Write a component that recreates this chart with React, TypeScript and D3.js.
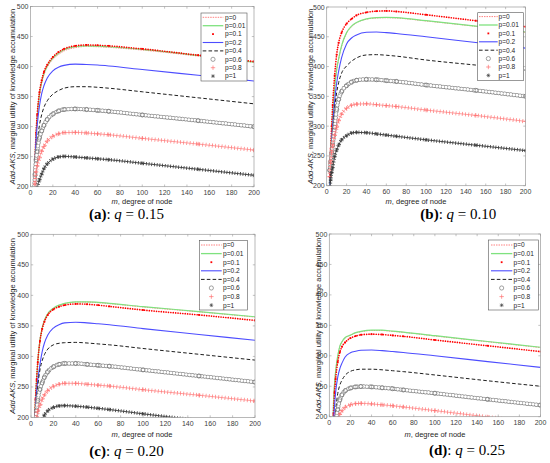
import React from 'react';
import * as d3 from 'd3';

// ---------- data ----------
const M_VALUES = [3, 4, 5, 6, 8, 10, 12, 15, 20, 25, 30, 40, 50, 60, 70, 100, 150, 200];
const P_LABELS = ['p=0', 'p=0.01', 'p=0.1', 'p=0.2', 'p=0.4', 'p=0.6', 'p=0.8', 'p=1'];
const X_TICKS = [0, 20, 40, 60, 80, 100, 120, 140, 160, 180, 200];
const Y_TICKS = [200, 250, 300, 350, 400, 450, 500];
const PANEL_LETTERS = ['a', 'b', 'c', 'd'];
const PANEL_Q = ['0.15', '0.10', '0.20', '0.25'];

// (a) q = 0.15
const A_P0 = [186, 240, 285, 315, 352, 372, 386, 399, 412, 420, 426, 431.5, 433.5, 433, 432, 427.5, 417.5, 407];
const A_P001 = [187, 242, 287, 317, 354, 374, 388, 401, 414, 422, 428, 433, 434.5, 434, 433, 428.5, 418.5, 407.5];
const A_P01 = [190, 245, 290, 320, 357, 377, 391, 403, 416, 424, 429.5, 434.5, 436, 435.5, 434.5, 429.5, 419, 408.5];
const A_P02 = [185, 240, 278, 302, 334, 355, 368, 381, 393, 399, 402, 404, 403.5, 402.5, 401, 395, 385.5, 376];
const A_P04 = [180, 225, 255, 275, 302, 320, 332, 343, 354, 360, 364, 366.5, 366.5, 365.5, 364, 358, 348, 338];
const A_P06 = [170, 220, 245, 259, 281, 293, 302, 312, 321, 326, 328.5, 329.5, 328.5, 327, 325.5, 319.5, 310, 300];
const A_P08 = [165, 205, 225, 235, 248, 259, 267, 276, 284, 288, 290, 290.5, 289.5, 288, 286.5, 280.5, 271, 261];
const A_P1 = [150, 172, 188, 198, 211, 221, 230, 238, 246, 249.5, 250.5, 249.5, 248, 246.5, 245, 239, 229, 219];

// (b) q = 0.10
const B_P0 = [200, 250, 288, 316, 362, 393, 412, 434, 456, 467, 473.5, 479.5, 481.5, 482, 481.5, 476.5, 467.5, 457.5];
const B_P001 = [200, 250, 290, 318, 365, 395, 413, 435, 457, 468, 474, 480, 482, 482.5, 482, 477, 468, 458];
const B_P01 = [215, 262, 300, 335, 385, 420, 440, 457, 472, 480, 486, 491, 493, 493.5, 492.5, 487, 477, 467];
const B_P02 = [190, 240, 275, 300, 342, 372, 392, 415, 438, 448, 453, 457.5, 458, 457, 455.5, 450, 440.5, 431];
const B_P04 = [185, 225, 250, 285, 330, 356, 373, 389, 401, 409, 414.5, 419.5, 420, 419, 417.5, 411, 402.5, 394];
const B_P06 = [226, 240, 255, 268, 298, 328, 345, 358, 368, 374, 377, 378.5, 378, 376.5, 375, 369, 360, 350];
const B_P08 = [215, 240, 256, 267, 285, 298, 309, 320, 330, 335, 337, 337.5, 336, 334.5, 333, 327, 318, 308];
const B_P1 = [190, 210, 222, 230, 249, 260, 268, 277, 284, 288.5, 289.5, 289, 287, 285, 283, 277, 268, 259];

// (c) q = 0.20
const C_P0 = [184, 229, 261, 289, 326, 346, 358, 369, 378.5, 383.5, 386.5, 389, 389, 388, 386.5, 381, 373, 364.5];
const C_P001 = [185, 230, 262, 290, 327, 347, 359, 370, 379, 384, 387, 389.5, 389.5, 388.5, 387, 381.5, 373.5, 365];
const C_P01 = [185, 230, 262, 290, 325, 345, 357, 368, 377, 381.5, 384, 386, 385.5, 384, 382, 376, 368, 359];
const C_P02 = [180, 215, 242, 260, 287, 308, 322, 335, 346.5, 352, 355, 356, 355, 353.5, 352, 345.5, 336, 326.5];
const C_P04 = [170, 200, 228, 250, 278, 293, 303, 312, 319, 321.5, 322.5, 323, 322, 320.5, 319, 313, 303.5, 294];
const C_P06 = [160, 190, 212, 228, 246, 257, 266, 275, 283, 287, 288.5, 288.5, 287, 285.5, 284, 278, 268, 258];
const C_P08 = [160, 185, 200, 210, 220, 230, 237, 244, 251, 254.5, 256, 256, 254.5, 253, 251.5, 245.5, 236.5, 227];
const C_P1 = [120, 140, 155, 166, 183, 196, 204, 211, 216.5, 219, 219.5, 218.5, 217, 215, 213, 206, 195, 184];

// (d) q = 0.25
const D_P0 = [160, 225, 255, 274, 299, 315, 322.5, 329, 333.5, 337.5, 339.5, 341.5, 341.5, 340, 338.5, 332.5, 323, 313.5];
const D_P001 = [160, 225, 255, 275, 300, 316, 323, 330, 334, 338, 340, 342, 342, 340.5, 339, 333, 323.5, 314];
const D_P01 = [155, 205, 240, 262, 290, 306, 315, 322, 329, 332.5, 334.5, 335.5, 335, 333.5, 332, 326, 316.5, 307];
const D_P02 = [150, 190, 218, 240, 265, 279, 288, 298, 305, 307.5, 309, 309.5, 308.5, 307, 305.5, 300, 290.5, 281];
const D_P04 = [130, 165, 190, 210, 238, 252, 260, 268, 274.5, 277, 278, 278, 277, 275.5, 274, 268.5, 259, 250];
const D_P06 = [120, 150, 172, 188, 212, 228, 236, 242.5, 247, 249, 249.5, 249, 247.5, 246, 244, 238.5, 228.5, 219];
const D_P08 = [100, 130, 150, 168, 190, 204, 210, 215.5, 219.5, 221.5, 222, 221, 219.5, 218, 216, 210, 199.5, 189];
const D_P1 = [70, 100, 120, 135, 158, 170, 178, 184, 188, 190, 190.5, 190, 188.5, 187, 185, 179, 169, 159];

const PANEL_SERIES = [
  [A_P0, A_P001, A_P01, A_P02, A_P04, A_P06, A_P08, A_P1],
  [B_P0, B_P001, B_P01, B_P02, B_P04, B_P06, B_P08, B_P1],
  [C_P0, C_P001, C_P01, C_P02, C_P04, C_P06, C_P08, C_P1],
  [D_P0, D_P001, D_P01, D_P02, D_P04, D_P06, D_P08, D_P1],
];

// ---------- layout ----------
const LAYOUT = [
  { l: 30.5, r: 254, t: 6.5, b: 186.7, ylx: 15.1, xlx: 142, xly: 204.3, capx: 126.5, capy: 219,
    lg: { x: 201, y: 13, w: 46, h: 68, x0: 202.7, x1: 223.3, tx: 225, y0: 17.3, dy: 8.4 } },
  { l: 326.7, r: 525.5, t: 7, b: 185.7, ylx: 313.3, xlx: 416, xly: 203.8, capx: 458.3, capy: 219,
    lg: { x: 477.7, y: 12.7, w: 45.6, h: 68, x0: 479, x1: 497.7, tx: 498.6, y0: 16.6, dy: 8.4 } },
  { l: 31, r: 255, t: 234.3, b: 417.5, ylx: 15.3, xlx: 142, xly: 437, capx: 126.5, capy: 455.5,
    lg: { x: 199.3, y: 240.5, w: 48, h: 69.5, x0: 201, x1: 221.7, tx: 223, y0: 245, dy: 8.6 } },
  { l: 329.3, r: 540.5, t: 234, b: 416.7, ylx: 321, xlx: 435, xly: 437, capx: 467, capy: 455,
    lg: { x: 488.3, y: 240, w: 50, h: 70, x0: 491, x1: 512.3, tx: 513.5, y0: 245, dy: 8.6 } },
];

const AXIS_COLOR = '#9a9a9a';
const TEXT_COLOR = '#404040';
const SANS = 'Liberation Sans, Arial, Helvetica, sans-serif';
const SERIF = 'Liberation Serif, Times New Roman, serif';

function markerGlyph(kind: number, x: number, y: number, key: string) {
  if (kind === 2) return <rect key={key} x={x - 0.9} y={y - 0.9} width={1.8} height={1.8} fill="#ff0000" />;
  if (kind === 5) return <circle key={key} cx={x} cy={y} r={2.1} fill="none" stroke="#7a7a7a" strokeWidth={0.7} />;
  if (kind === 6)
    return <path key={key} d={`M${x - 2.2},${y}H${x + 2.2}M${x},${y - 2.2}V${y + 2.2}`} stroke="#ff7070" strokeWidth={0.7} />;
  if (kind === 7)
    return (
      <path key={key}
        d={`M${x - 1.9},${y}H${x + 1.9}M${x},${y - 1.9}V${y + 1.9}M${x - 1.4},${y - 1.4}L${x + 1.4},${y + 1.4}M${x - 1.4},${y + 1.4}L${x + 1.4},${y - 1.4}`}
        stroke="#3a3a3a" strokeWidth={0.6} />
    );
  return null;
}

function Series({ kind, d, pts, id }: { kind: number; d: string; pts: [number, number][]; id: string }) {
  switch (kind) {
    case 0:
      return <path d={d} fill="none" stroke="#ff8080" strokeWidth={1} strokeDasharray="1.5 1" />;
    case 1:
      return <path d={d} fill="none" stroke="#7fe27f" strokeWidth={1.2} />;
    case 2:
      return (
        <g>
          <path d={d} fill="none" stroke="#ff0000" strokeWidth={1.7} strokeDasharray="0 2.4" strokeLinecap="round" />
          {pts.map((p, i) => markerGlyph(2, p[0], p[1], id + i))}
        </g>
      );
    case 3:
      return <path d={d} fill="none" stroke="#4d4dff" strokeWidth={1.1} />;
    case 4:
      return <path d={d} fill="none" stroke="#1e1e1e" strokeWidth={1} strokeDasharray="3.6 2.2" />;
    case 5:
      return (
        <g>
          <path d={d} fill="none" stroke="#8a8a8a" strokeWidth={4.4} strokeDasharray="0 3.1" strokeLinecap="round" />
          <path d={d} fill="none" stroke="#ffffff" strokeWidth={2.9} strokeDasharray="0 3.1" strokeLinecap="round" />
          {pts.map((p, i) => markerGlyph(5, p[0], p[1], id + i))}
        </g>
      );
    case 6:
      return (
        <g>
          <path d={d} fill="none" stroke="#ff7878" strokeWidth={0.7} />
          <path d={d} fill="none" stroke="#ff7878" strokeWidth={4.2} strokeDasharray="0.7 2.5" />
          {pts.map((p, i) => markerGlyph(6, p[0], p[1], id + i))}
        </g>
      );
    case 7:
      return (
        <g>
          <path d={d} fill="none" stroke="#3a3a3a" strokeWidth={0.9} />
          <path d={d} fill="none" stroke="#3a3a3a" strokeWidth={3.6} strokeDasharray="0.8 1.9" />
          {pts.map((p, i) => markerGlyph(7, p[0], p[1], id + i))}
        </g>
      );
  }
  return null;
}

function Panel({ idx }: { idx: number }) {
  const L = LAYOUT[idx];
  const x = d3.scaleLinear().domain([0, 200]).range([L.l, L.r]);
  const y = d3.scaleLinear().domain([200, 500]).range([L.b, L.t]);
  const line = d3
    .line<number>()
    .x((_, i) => x(M_VALUES[i]))
    .y((v) => y(v))
    .curve(d3.curveMonotoneX);
  const clipId = `clip-${idx}`;
  const tick = 2.2;
  const lg = L.lg;
  return (
    <g>
      <defs>
        <clipPath id={clipId}>
          <rect x={L.l} y={L.t} width={L.r - L.l} height={L.b - L.t} />
        </clipPath>
      </defs>
      <g clipPath={`url(#${clipId})`}>
        {PANEL_SERIES[idx].map((vals, k) => {
          const pts: [number, number][] = vals.map((v, i) => [x(M_VALUES[i]), y(v)]);
          return <Series key={k} kind={k} d={line(vals) || ''} pts={pts} id={`${idx}-${k}-`} />;
        })}
      </g>
      {/* axes box */}
      <rect x={L.l} y={L.t} width={L.r - L.l} height={L.b - L.t} fill="none" stroke={AXIS_COLOR} strokeWidth={0.7} />
      {X_TICKS.map((t) => (
        <g key={'x' + t}>
          <line x1={x(t)} x2={x(t)} y1={L.b} y2={L.b - tick} stroke={AXIS_COLOR} strokeWidth={0.6} />
          <line x1={x(t)} x2={x(t)} y1={L.t} y2={L.t + tick} stroke={AXIS_COLOR} strokeWidth={0.6} />
          <text x={x(t)} y={L.b + 8.6} textAnchor="middle" fontSize={7} fill={TEXT_COLOR} fontFamily={SANS}>
            {t}
          </text>
        </g>
      ))}
      {Y_TICKS.map((t) => (
        <g key={'y' + t}>
          <line x1={L.l} x2={L.l + tick} y1={y(t)} y2={y(t)} stroke={AXIS_COLOR} strokeWidth={0.6} />
          <line x1={L.r} x2={L.r - tick} y1={y(t)} y2={y(t)} stroke={AXIS_COLOR} strokeWidth={0.6} />
          <text x={L.l - 2} y={y(t) + 2.5} textAnchor="end" fontSize={7} fill={TEXT_COLOR} fontFamily={SANS}>
            {t}
          </text>
        </g>
      ))}
      {/* axis labels */}
      <text x={L.xlx} y={L.xly} textAnchor="middle" fontSize={7.5} fill="#262626" fontFamily={SANS}>
        <tspan fontStyle="italic">m</tspan>
        {', degree of node'}
      </text>
      <text
        x={L.ylx}
        y={(L.t + L.b) / 2}
        transform={`rotate(-90, ${L.ylx}, ${(L.t + L.b) / 2})`}
        textAnchor="middle"
        fontSize={7.5}
        fill="#262626"
        fontFamily={SANS}
      >
        <tspan fontStyle="italic">Add-AKS</tspan>
        {', marginal utility of knowledge accumulation'}
      </text>
      {/* legend */}
      <rect x={lg.x} y={lg.y} width={lg.w} height={lg.h} fill="#ffffff" stroke="#555555" strokeWidth={0.6} />
      {P_LABELS.map((lab, k) => {
        const ly = lg.y0 + k * lg.dy;
        const cx = (lg.x0 + lg.x1) / 2;
        let sample: React.ReactNode = null;
        if (k === 0) sample = <line x1={lg.x0} x2={lg.x1} y1={ly} y2={ly} stroke="#ff8080" strokeWidth={1} strokeDasharray="1.5 1" />;
        else if (k === 1) sample = <line x1={lg.x0} x2={lg.x1} y1={ly} y2={ly} stroke="#7fe27f" strokeWidth={1.3} />;
        else if (k === 3) sample = <line x1={lg.x0} x2={lg.x1} y1={ly} y2={ly} stroke="#4d4dff" strokeWidth={1.1} />;
        else if (k === 4) sample = <line x1={lg.x0} x2={lg.x1} y1={ly} y2={ly} stroke="#1e1e1e" strokeWidth={1} strokeDasharray="3.6 2.2" />;
        else sample = markerGlyph(k, cx, ly, 'lg' + k);
        return (
          <g key={lab}>
            {sample}
            <text x={lg.tx} y={ly + 2.3} fontSize={6.6} fill="#262626" fontFamily={SANS}>
              {lab}
            </text>
          </g>
        );
      })}
      {/* caption */}
      <text x={L.capx} y={L.capy} textAnchor="middle" fontSize={15} fill="#000000" fontFamily={SERIF}>
        <tspan fontWeight="bold">{`(${PANEL_LETTERS[idx]})`}</tspan>
        {': '}
        <tspan fontStyle="italic">q</tspan>
        {` = ${PANEL_Q[idx]}`}
      </text>
    </g>
  );
}

export default function App() {
  return (
    <svg
      width={550}
      height={463}
      viewBox="0 0 550 463"
      style={{ position: 'absolute', left: 0, top: 0, background: '#ffffff' }}
    >
      <rect x={0} y={0} width={550} height={463} fill="#ffffff" />
      {[0, 1, 2, 3].map((i) => (
        <Panel key={i} idx={i} />
      ))}
    </svg>
  );
}
